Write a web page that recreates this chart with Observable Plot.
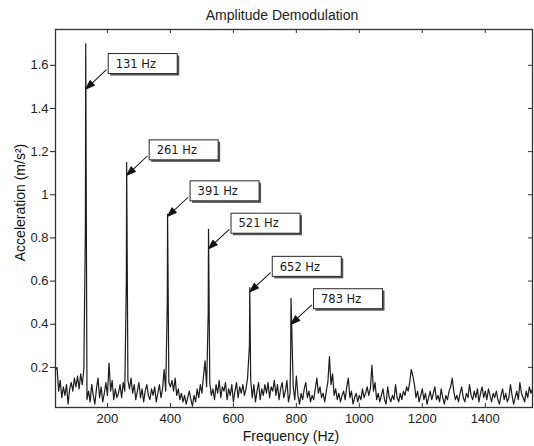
<!DOCTYPE html>
<html>
<head>
<meta charset="utf-8">
<script src="https://cdn.jsdelivr.net/npm/d3@7"></script>
<script src="https://cdn.jsdelivr.net/npm/@observablehq/plot@0.6"></script>
<style>
  html, body { margin: 0; padding: 0; background: #fff; }
  body { width: 534px; height: 446px; overflow: hidden; font-family: "Liberation Sans", Arial, sans-serif; }
  #title { box-sizing: border-box; height: 26px; padding-top: 4px; padding-left: 30px; line-height: 22px; text-align: center; font-size: 14px; color: #222; }
  svg { display: block; }
</style>
</head>
<body>
<div id="title">Amplitude Demodulation</div>
<div id="chart"></div>
<script>
// ---- data ----
const startFreq = 35;   // Hz, first spectrum bin shown
const freqStep = 5;     // Hz between bins
const noise = [
  0.19, 0.20, 0.09, 0.14, 0.06, 0.11, 0.07, 0.12, 0.03, 0.10, 0.13, 0.09, 0.15, 0.11, 0.16, 0.10, 0.17, 0.12, 0.19, 0.11,
  0.05, 0.09, 0.04, 0.12, 0.07, 0.03, 0.10, 0.15, 0.06, 0.11, 0.04, 0.08, 0.13, 0.07, 0.22, 0.09, 0.14, 0.05, 0.10, 0.06,
  0.08, 0.12, 0.06, 0.13, 0.09, 0.07, 0.14, 0.10, 0.15, 0.08, 0.12, 0.05, 0.09, 0.13, 0.06, 0.10, 0.04, 0.09, 0.12, 0.07,
  0.05, 0.10, 0.07, 0.11, 0.04, 0.08, 0.12, 0.06, 0.10, 0.19, 0.09, 0.08, 0.13, 0.11, 0.14, 0.09, 0.15, 0.07, 0.10, 0.05,
  0.08, 0.04, 0.07, 0.03, 0.06, 0.09, 0.05, 0.02, 0.07, 0.04, 0.10, 0.06, 0.12, 0.08, 0.16, 0.23, 0.11, 0.09, 0.13, 0.07,
  0.10, 0.05, 0.12, 0.08, 0.14, 0.06, 0.11, 0.09, 0.13, 0.05, 0.10, 0.07, 0.12, 0.04, 0.09, 0.13, 0.06, 0.11, 0.08, 0.12,
  0.07, 0.10, 0.15, 0.09, 0.14, 0.06, 0.12, 0.04, 0.09, 0.13, 0.05, 0.10, 0.07, 0.12, 0.08, 0.13, 0.06, 0.11, 0.09, 0.14,
  0.07, 0.12, 0.05, 0.10, 0.13, 0.06, 0.09, 0.14, 0.04, 0.08, 0.06, 0.11, 0.05, 0.16, 0.07, 0.03, 0.08, 0.05, 0.10, 0.13,
  0.06, 0.09, 0.04, 0.07, 0.05, 0.10, 0.15, 0.08, 0.11, 0.06, 0.08, 0.04, 0.09, 0.13, 0.25, 0.12, 0.17, 0.07, 0.10, 0.05,
  0.08, 0.04, 0.07, 0.09, 0.05, 0.11, 0.15, 0.06, 0.09, 0.03, 0.06, 0.08, 0.04, 0.07, 0.05, 0.10, 0.06, 0.08, 0.11, 0.07,
  0.10, 0.21, 0.09, 0.13, 0.05, 0.08, 0.04, 0.07, 0.10, 0.05, 0.03, 0.11, 0.06, 0.04, 0.07, 0.05, 0.12, 0.06, 0.04, 0.08,
  0.05, 0.09, 0.07, 0.11, 0.09, 0.13, 0.19, 0.16, 0.12, 0.06, 0.09, 0.04, 0.07, 0.10, 0.05, 0.08, 0.03, 0.06, 0.09, 0.05,
  0.08, 0.11, 0.05, 0.07, 0.04, 0.10, 0.06, 0.03, 0.07, 0.05, 0.09, 0.11, 0.15, 0.09, 0.05, 0.07, 0.04, 0.08, 0.11, 0.06,
  0.04, 0.08, 0.06, 0.12, 0.07, 0.05, 0.09, 0.06, 0.10, 0.04, 0.08, 0.11, 0.06, 0.09, 0.05, 0.10, 0.07, 0.04, 0.08, 0.06,
  0.09, 0.05, 0.03, 0.07, 0.10, 0.05, 0.08, 0.04, 0.06, 0.12, 0.07, 0.03, 0.06, 0.09, 0.05, 0.13, 0.08, 0.06, 0.04, 0.09,
  0.06, 0.11, 0.08, 0.10
];
const peakFreqs  = [131, 261, 391, 521, 652, 783];
const peakTops   = [1.70, 1.15, 0.91, 0.84, 0.57, 0.52];
const peakShoulders = [0.85, 0.60, 0.49, 0.45, 0.30, 0.28];
const arrowTips  = [1.49, 1.09, 0.90, 0.75, 0.55, 0.40];
const peakLabels = ["131 Hz", "261 Hz", "391 Hz", "521 Hz", "652 Hz", "783 Hz"];
const xTicks = [200, 400, 600, 800, 1000, 1200, 1400];
const yTicks = [0.2, 0.4, 0.6, 0.8, 1, 1.2, 1.4, 1.6];

// ---- build tables ----
const series = noise
  .map((v, i) => ({f: startFreq + i * freqStep, v}))
  .filter(d => !peakFreqs.some(p => Math.abs(p - d.f) <= 2));
peakFreqs.forEach((p, i) => {
  series.push({f: p - 1, v: peakShoulders[i]});
  series.push({f: p, v: peakTops[i]});
});
series.sort((a, b) => a.f - b.f);

const peaks = peakFreqs.map((f, i) => ({f, a: arrowTips[i], label: peakLabels[i]}));

const arrowShape = {
  draw(context, l) {
    context.moveTo(0, 0);
    context.lineTo(0, -l + 7);
    context.moveTo(0, -l);
    context.lineTo(-3.2, -l + 9);
    context.lineTo(3.2, -l + 9);
    context.closePath();
  }
};

const chart = Plot.plot({
  width: 534,
  height: 420,
  marginTop: 3,
  marginBottom: 39,
  marginLeft: 55,
  marginRight: 2,
  style: {fontFamily: "'Liberation Sans', Arial, sans-serif", fontSize: "13px", color: "#222", background: "#fff"},
  x: {domain: [35, 1550], ticks: xTicks, label: null},
  y: {domain: [0.014, 1.766], ticks: yTicks, label: null},
  marks: [
    Plot.line(series, {x: "f", y: "v", stroke: "#1c1c1c", strokeWidth: 1.2}),
    // inward ticks (bottom, top, right)
    Plot.ruleX(xTicks, {x: d => d, insetTop: 374, stroke: "#333"}),
    Plot.ruleX(xTicks, {x: d => d, insetBottom: 374, stroke: "#333"}),
    Plot.ruleY(yTicks, {y: d => d, insetLeft: 473, stroke: "#333"}),
    // annotation boxes
    Plot.rect(peaks, {x1: "f", x2: "f", y1: "a", y2: "a", insetLeft: 25, insetRight: -94, insetTop: -33, insetBottom: 13, fill: "#555"}),
    Plot.rect(peaks, {x1: "f", x2: "f", y1: "a", y2: "a", insetLeft: 23, insetRight: -92, insetTop: -35, insetBottom: 15, fill: "#fff", stroke: "#2a2a2a", strokeWidth: 1}),
    Plot.text(peaks, {x: "f", y: "a", text: "label", dx: 30, dy: -25, textAnchor: "start", fontFamily: "'DejaVu Sans', sans-serif", fontSize: 11.5, fill: "#1a1a1a"}),
    Plot.vector(peaks, {x: "f", y: "a", length: 28, rotate: 227, anchor: "end", shape: arrowShape, stroke: "#111", fill: "#111", strokeWidth: 1}),
    Plot.frame({stroke: "#333", strokeWidth: 1.3}),
    Plot.axisY({ticks: yTicks, tickSize: 5, tickPadding: 2, tickFormat: d => String(d), fontSize: 13, label: null}),
    Plot.axisX({ticks: xTicks, tickSize: 0, tickPadding: 6, tickFormat: d => String(d), fontSize: 13, label: null}),
    Plot.text(["Frequency (Hz)"], {frameAnchor: "bottom", text: d => d, lineAnchor: "middle", dx: -3, dy: 29, fontSize: 14, fill: "#111"}),
    Plot.text(["Acceleration (m/s\u00B2)"], {frameAnchor: "left", text: d => d, textAnchor: "middle", lineAnchor: "middle", rotate: -90, dx: -35, dy: -16, fontSize: 14, fill: "#111"})
  ]
});
document.getElementById("chart").appendChild(chart);
</script>
</body>
</html>
